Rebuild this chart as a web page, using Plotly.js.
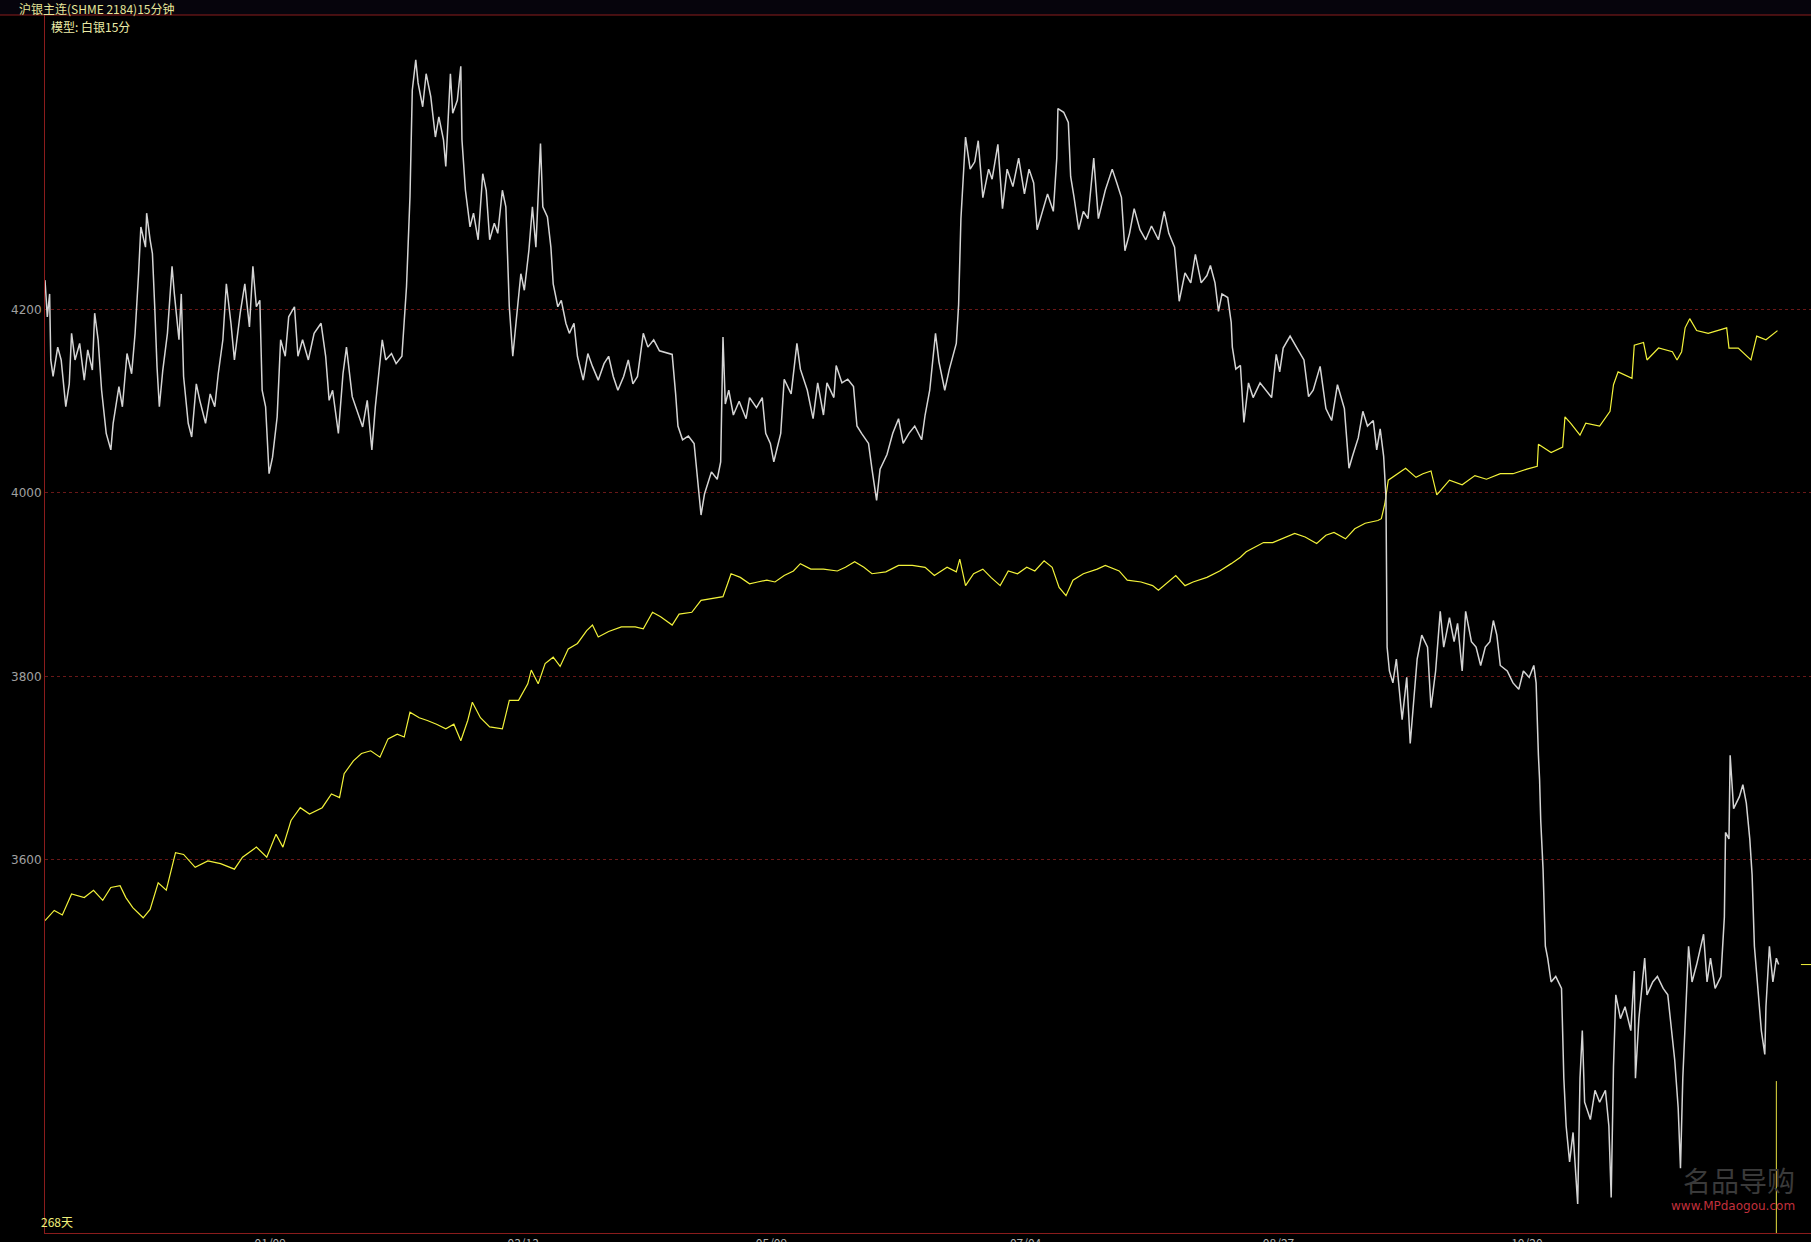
<!DOCTYPE html>
<html>
<head>
<meta charset="utf-8">
<script src="https://cdn.plot.ly/plotly-3.0.1.min.js"></script>
<style>
  html, body { margin: 0; padding: 0; background: #000; }
  #chart { width: 1811px; height: 1242px; }
</style>
</head>
<body>
<div id="chart"></div>
<script>
// ---- Price series (white): bar index and 15-min price ----
const priceIdx = [
0,2,4,5,7,11,14,18,21,23,26,30,34,37,41,43,46,49,53,57,59,64,67,71,75,78,81,83,87,88,91,93,95,97,99,102,106,110,112,116,118,120,124,127,131,134,139,143,147,150,154,157,161,164,169,173,177,180,183,186,188,191,194,197,201,204,208,211,216,219,223,228,233,239,243,246,249,254,258,261,266,270,275,279,283,286,292,295,300,304,309,313,315,316,318,321,323,327,330,334,338,341,345,347,351,353,357,360,361,364,368,371,375,379,382,385,389,392,396,399,402,405,408,412,415,419,422,425,429,431,435,438,440,444,447,451,454,458,461,466,470,474,479,484,488,492,496,501,505,509,513,518,522,527,
532,543,546,548,552,557,562,566,568,571,577,582,585,587,589,592,596,601,607,610,616,621,624,628,631,637,640,646,651,654,660,665,669,674,677,683,685,690,695,700,703,707,713,716,720,723,729,734,739,743,748,753,759,762,766,771,774,779,783,789,791,793,796,797,801,805,808,812,817,820,825,829,833,838,843,848,852,856,859,864,868,873,876,877,882,886,888,891,895,899,903,908,912,918,924,928,932,935,939,943,948,953,958,964,969,973,978,982,987,992,996,1001,1006,1009,1013,1016,1019,1024,1027,1028,1031,1035,1038,1042,1046,1052,1057,1062,1066,
1069,1072,1078,1084,1090,1094,1098,1104,1109,1114,1119,1125,1129,1132,1137,1141,1145,1150,1153,1156,1159,1161,1162,1164,1167,1170,1175,1179,1182,1185,1188,1192,1197,1200,1204,1208,1211,1216,1220,1223,1227,1230,1235,1239,1243,1247,1251,1254,1257,1260,1266,1271,1276,1280,1285,1289,1291,1293,1294,1295,1297,1299,1301,1304,1308,1313,1315,1317,1320,1323,1327,1329,1331,1333,1338,1342,1346,1351,1354,1356,1358,1360,1364,1368,1373,1376,1377,1380,1385,1387,1392,1396,1401,1405,1408,1411,1414,1416,1418,1421,1423,1426,1430,1436,1439,1442,1446,1451,1454,1455,1458,1459,1462,1467,1470,1473,1476,1478,1480,1483,1486,1489,1490,1493,1496,1499,1501
];
const priceVal = [
4232,4192,4217,4145,4127,4159,4145,4094,4119,4174,4145,4163,4123,4156,4134,4196,4167,4112,4065,4047,4076,4116,4094,4152,4130,4174,4239,4290,4268,4305,4276,4261,4203,4137,4094,4134,4174,4247,4217,4167,4217,4127,4076,4061,4119,4101,4076,4108,4094,4130,4167,4228,4185,4145,4196,4228,4181,4247,4203,4210,4112,4094,4021,4039,4083,4167,4149,4192,4203,4149,4167,4145,4174,4185,4149,4101,4112,4065,4130,4159,4105,4090,4072,4101,4047,4094,4167,4145,4152,4141,4149,4225,4290,4323,4439,4472,4447,4421,4457,4432,4388,4410,4385,4356,4457,4414,4428,4465,4385,4330,4290,4305,4276,4348,4330,4276,4294,4283,4330,4312,4203,4149,4188,4239,4221,4265,4312,4268,4381,4312,4301,4268,4228,4203,4210,4185,4174,4185,4149,4123,4152,4138,4123,4141,4149,4127,4112,4127,4145,4119,4127,4174,4159,4167,
4155,4151,4108,4073,4058,4062,4054,4007,3976,3999,4023,4015,4034,4170,4097,4112,4085,4100,4081,4104,4093,4104,4065,4054,4034,4065,4124,4108,4163,4135,4112,4081,4120,4085,4120,4104,4139,4120,4124,4116,4073,4065,4054,4026,3992,4026,4042,4065,4081,4054,4065,4073,4058,4085,4112,4174,4143,4112,4135,4163,4205,4299,4357,4388,4353,4361,4384,4322,4353,4342,4380,4310,4353,4334,4365,4326,4353,4338,4287,4310,4326,4307,4365,4419,4415,4404,4345,4322,4287,4307,4299,4365,4299,4330,4353,4338,4322,4264,4283,4310,4287,4276,4291,4276,4307,4283,4268,4209,4240,4229,4260,4229,4237,4248,4229,4198,4217,4213,4186,4159,4135,4139,4077,4120,4104,4120,4112,4104,4151,
4132,4158,4171,4158,4145,4105,4112,4138,4092,4079,4118,4092,4027,4040,4060,4089,4073,4079,4047,4070,4040,3995,3832,3806,3793,3819,3753,3799,3727,3773,3819,3845,3832,3766,3806,3871,3832,3864,3838,3858,3806,3871,3838,3832,3812,3832,3838,3861,3845,3812,3806,3793,3786,3806,3799,3812,3793,3714,3688,3643,3590,3506,3493,3467,3473,3460,3362,3310,3271,3303,3225,3362,3414,3336,3317,3349,3336,3349,3310,3232,3375,3453,3427,3440,3414,3479,3362,3427,3493,3453,3467,3473,3460,3453,3414,3382,3330,3264,3362,3460,3506,3467,3486,3519,3467,3493,3460,3473,3538,3630,3623,3714,3656,3669,3682,3662,3623,3584,3506,3460,3414,3388,3440,3506,3467,3493,3486
];

// ---- Model series (yellow): bar index and value ----
const modelIdx = [
0,8,15,23,34,42,50,57,65,70,76,85,91,98,105,113,120,130,141,152,164,171,183,192,200,206,213,221,229,240,248,255,259,267,274,282,290,297,305,311,316,324,331,339,347,354,360,366,370,377,385,396,402,410,418,421,427,433,440,446,453,461,469,474,479,488,499,511,518,526,533,543,549,560,568,579,587,591,594,602,610,617,625,632,640,648,654,663,674,686,693,701,709,716,728,739,751,762,770,781,789,792,797,804,812,819,827,834,842,850,857,865,872,878,884,890,899,911,918,930,937,949,959,964,972,979,987,994,1006,1017,1027,1035,1040,1048,1055,1063,1074,1082,1091,1101,1109,1116,1126,1134,1143,1154,1157,
1160,1163,1171,1178,1187,1193,1200,1205,1216,1227,1238,1248,1260,1271,1283,1292,1293,1304,1314,1316,1321,1329,1334,1346,1355,1358,1362,1374,1376,1384,1387,1397,1409,1413,1417,1420,1424,1430,1440,1449,1456,1458,1466,1477,1482,1490,1500
];
const modelVal = [
3534,3545,3540,3563,3559,3567,3556,3570,3572,3559,3548,3537,3546,3575,3567,3608,3606,3592,3599,3596,3590,3603,3614,3603,3628,3614,3643,3657,3650,3657,3672,3668,3694,3708,3716,3719,3712,3732,3737,3734,3761,3755,3752,3748,3743,3748,3730,3752,3772,3755,3745,3743,3774,3774,3792,3807,3792,3814,3821,3811,3830,3836,3850,3856,3843,3849,3854,3854,3852,3870,3865,3856,3868,3870,3883,3885,3887,3901,3912,3908,3901,3903,3905,3903,3910,3915,3923,3917,3917,3915,3919,3925,3919,3912,3914,3921,3921,3919,3910,3919,3914,3928,3899,3912,3917,3908,3899,3915,3912,3919,3915,3926,3919,3897,3888,3905,3912,3917,3921,3915,3905,3903,3899,3894,3903,3910,3899,3903,3908,3915,3923,3930,3936,3941,3946,3946,3952,3956,3952,3945,3954,3957,3950,3961,3967,3970,3972,
3988,4014,4021,4027,4017,4021,4024,3998,4014,4009,4019,4015,4021,4021,4026,4029,4053,4044,4050,4083,4076,4063,4076,4073,4089,4118,4132,4125,4161,4164,4145,4158,4154,4145,4154,4180,4190,4177,4174,4177,4180,4158,4158,4145,4171,4167,4177
];

// ---- Axis ticks ----
const yTicks = [3600, 3800, 4000, 4200];
const xTickIdx = [195, 414, 629, 849, 1068, 1283];
const xTickText = ['01/09', '03/13', '05/09', '07/04', '08/27', '10/20'];

// ---- Texts and markers ----
const titleText = '沪银主连(SHME 2184)15分钟';
const modelText = '模型: 白银15分';
const daysText = '268天';
const lastPrice = 3486;
const cursorIdx = 1499;
const cursorTop = 3359;

const X_RANGE = [0, 1529];
const Y_RANGE = [3193.4, 4521];
const BORDER = '#8a1c1c';

const traces = [
  {
    x: modelIdx, y: modelVal, type: 'scatter', mode: 'lines',
    line: {color: '#f2f23a', width: 1.2},
    hoverinfo: 'skip'
  },
  {
    x: priceIdx, y: priceVal, type: 'scatter', mode: 'lines',
    line: {color: '#d4d4d4', width: 1.5},
    hoverinfo: 'skip'
  }
];

const font = 'SimSun, "Noto Sans CJK SC", "DejaVu Sans", sans-serif';

const layout = {
  width: 1811, height: 1242,
  margin: {l: 45, r: 0, t: 15, b: 9, pad: 0},
  paper_bgcolor: '#000000',
  plot_bgcolor: '#000000',
  showlegend: false,
  font: {family: font, size: 12, color: '#a8a8a8'},
  xaxis: {
    range: X_RANGE, showgrid: false, zeroline: false,
    showline: true, linecolor: BORDER, linewidth: 1,
    tickvals: xTickIdx, ticktext: xTickText, ticks: '',
    tickfont: {family: font, size: 12, color: '#b0b0b0'},
    automargin: false, fixedrange: true
  },
  yaxis: {
    range: Y_RANGE, showgrid: true, gridcolor: '#6a1818', griddash: '3px,3px', gridwidth: 1,
    zeroline: false, showline: true, linecolor: BORDER, linewidth: 1,
    tickvals: yTicks, ticktext: yTicks.map(String), ticks: '',
    tickfont: {family: '"DejaVu Sans", sans-serif', size: 12, color: '#a0a0a0'},
    automargin: false, fixedrange: true
  },
  shapes: [
    {type: 'rect', xref: 'paper', yref: 'paper', x0: -0.03, x1: 1.01, y0: 1.0, y1: 1.02,
     fillcolor: '#06040c', line: {width: 0}, layer: 'below'},
    {type: 'line', xref: 'paper', yref: 'paper', x0: -0.0255, x1: 1.0, y0: 1.0, y1: 1.0,
     line: {color: BORDER, width: 1}},
    {type: 'line', xref: 'x', yref: 'y', x0: cursorIdx, x1: cursorIdx, y0: cursorTop, y1: Y_RANGE[0],
     line: {color: '#e8e040', width: 1}},
    {type: 'line', xref: 'paper', yref: 'y', x0: 0.9943, x1: 1.0, y0: lastPrice, y1: lastPrice,
     line: {color: '#f2f23a', width: 1}}
  ],
  annotations: [
    {text: titleText, xref: 'paper', yref: 'paper', x: -0.0153, y: 1.0128, xanchor: 'left', yanchor: 'top',
     showarrow: false, font: {family: font, size: 12, color: '#e6e69a'}, borderpad: 0},
    {text: modelText, xref: 'paper', yref: 'paper', x: 0.0028, y: 0.9985, xanchor: 'left', yanchor: 'top',
     showarrow: false, font: {family: font, size: 12, color: '#ececa8'}, borderpad: 0},
    {text: daysText, xref: 'paper', yref: 'paper', x: -0.0028, y: 0.0015, xanchor: 'left', yanchor: 'bottom',
     showarrow: false, font: {family: font, size: 12, color: '#f0f07a'}, borderpad: 0},
    {text: '名品导购', xref: 'paper', yref: 'paper', x: 0.9915, y: 0.026, xanchor: 'right', yanchor: 'bottom',
     showarrow: false, font: {family: '"Noto Sans CJK SC", sans-serif', size: 28, color: '#3a3a3a'}, borderpad: 0},
    {text: 'www.MPdaogou.com', xref: 'paper', yref: 'paper', x: 0.9915, y: 0.016, xanchor: 'right', yanchor: 'bottom',
     showarrow: false, font: {family: '"DejaVu Sans", sans-serif', size: 12, color: '#c0303c'}, borderpad: 0}
  ]
};

Plotly.newPlot('chart', traces, layout, {staticPlot: true, displayModeBar: false});
</script>
</body>
</html>
